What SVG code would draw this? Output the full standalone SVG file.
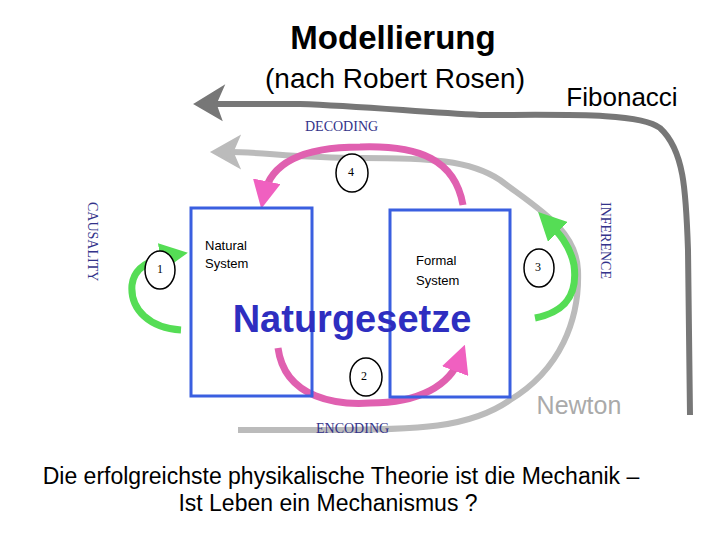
<svg xmlns="http://www.w3.org/2000/svg" width="720" height="540" viewBox="0 0 720 540">
<style>
.box{fill:none;stroke:#3a5fe0;stroke-width:3}
.c{fill:#fff;stroke:#000;stroke-width:1.5}
.n{font-family:"Liberation Serif",serif;font-size:12px;text-anchor:middle}
.lbl{font-family:"Liberation Serif",serif;font-size:14px;fill:#33338a}
.sm{font-family:"Liberation Sans",Arial,sans-serif;font-size:13px;fill:#000}
.big{font-family:"Liberation Sans",Arial,sans-serif;fill:#000}
</style>
<defs>
<marker id="pk" markerWidth="4" markerHeight="4" refX="2" refY="2" orient="auto" markerUnits="strokeWidth"><path d="M0,0L4,2L0,4z" fill="#f060c0"/></marker>
<marker id="gr" markerWidth="4" markerHeight="4" refX="2" refY="2" orient="auto" markerUnits="strokeWidth"><path d="M0,0L4,2L0,4z" fill="#55dd55"/></marker>
</defs>
<rect width="720" height="540" fill="#fff"/>
<text x="393" y="49" text-anchor="middle" class="big" font-size="33" font-weight="bold">Modellierung</text>
<text x="395" y="88" text-anchor="middle" class="big" font-size="28">(nach Robert Rosen)</text>
<text x="622" y="106" text-anchor="middle" class="big" font-size="26">Fibonacci</text>
<g id="connectors" fill="none">
<path d="M690,415 L688,250 C686,190 684,150 660,128 C640,112 560,115 480,115 C420,112 360,106 300,104 L215,104" stroke="#777" stroke-width="6"/>
<path d="M196,104 L222,88 L215,104 L220,118 z" fill="#777" stroke="#777" stroke-width="3"/>
<path d="M238,430 L320,430 C420,430 470,428 510,400 C560,370 580,320 578,270 C576,230 540,210 500,180 C470,160 430,158 360,158 C300,158 260,152 230,152" stroke="#bbb" stroke-width="6"/>
<path d="M213,152 L238,138 L232,152 L238,166 z" fill="#bbb" stroke="#bbb" stroke-width="3"/>
<path d="M463,205 C455,160 420,145 360,147 C300,147 270,165 264,195" stroke="#e060b0" stroke-width="7" marker-end="url(#pk)"/>
<path d="M278,348 C285,400 340,405 370,403 C420,403 450,385 460,358" stroke="#e060b0" stroke-width="7" marker-end="url(#pk)"/>
<path d="M181,330 C150,328 130,310 132,285 C134,265 155,258 174,255" stroke="#55dd55" stroke-width="7" marker-end="url(#gr)"/>
<path d="M535,318 C565,312 578,295 574,265 C570,245 558,232 548,222" stroke="#55dd55" stroke-width="7" marker-end="url(#gr)"/>
</g>
<g id="natural"><rect class="box" x="191" y="208" width="121" height="188"/><text x="205" y="250" class="sm">Natural</text><text x="205" y="268" class="sm">System</text></g>
<g id="formal"><rect class="box" x="390" y="210" width="120" height="187"/><text x="416" y="265" class="sm">Formal</text><text x="416" y="285" class="sm">System</text></g>
<text x="352" y="332" text-anchor="middle" class="big" font-size="38" font-weight="bold" style="fill:#2e2ec0">Naturgesetze</text>
<g id="c4"><ellipse class="c" cx="352" cy="173" rx="16" ry="19"/><text x="351" y="176" class="n">4</text></g>
<g id="c1"><ellipse class="c" cx="160" cy="270" rx="15" ry="19"/><text x="160" y="273" class="n">1</text></g>
<g id="c3"><ellipse class="c" cx="539" cy="268" rx="15" ry="19"/><text x="538" y="271" class="n">3</text></g>
<g id="c2"><ellipse class="c" cx="366" cy="377" rx="16" ry="19"/><text x="364" y="380" class="n">2</text></g>
<text x="305" y="131" class="lbl">DECODING</text>
<text x="316" y="433" class="lbl">ENCODING</text>
<text class="lbl" transform="translate(88,202) rotate(90)">CAUSALITY</text>
<text class="lbl" transform="translate(601,202) rotate(90)">INFERENCE</text>
<text x="579" y="414" text-anchor="middle" font-family="Liberation Sans,Arial,sans-serif" font-size="25" fill="#aaa">Newton</text>
<text x="341" y="484" text-anchor="middle" class="big" font-size="23">Die erfolgreichste physikalische Theorie ist die Mechanik –</text>
<text x="328" y="511" text-anchor="middle" class="big" font-size="23">Ist Leben ein Mechanismus ?</text>
</svg>
